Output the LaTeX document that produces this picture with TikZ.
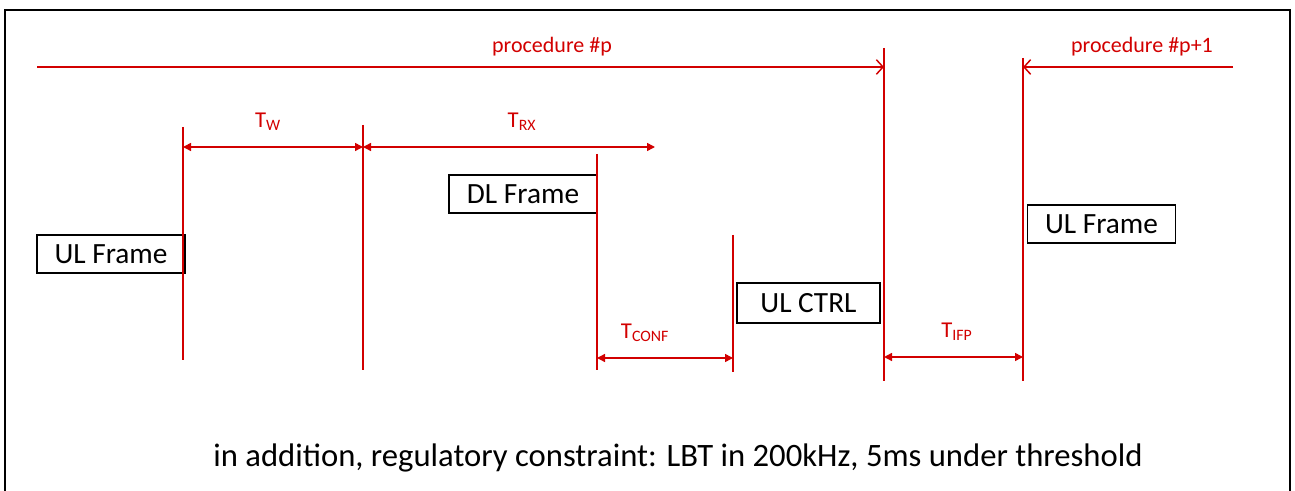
\documentclass[tikz,border=0pt]{standalone}
\usepackage{fontspec}
\setmainfont{Carlito}
\usetikzlibrary{arrows.meta}
\definecolor{tred}{RGB}{210,0,0}
\begin{document}
\begin{tikzpicture}[x=0.75pt,y=-0.75pt,
 redline/.style={draw=tred, line width=1.1pt},
 dim/.style={redline, {Triangle[length=6pt,width=6pt]}-{Triangle[length=6pt,width=6pt]}},
 proc/.style={redline, -{Straight Barb[length=5pt,width=11pt]}},
 framebox/.style={draw=black, line width=1.1pt, fill=white, font=\fontsize{22}{26}\selectfont, inner sep=0pt, minimum height=28.5pt, minimum width=111pt},
 lbl/.style={text=tred, font=\fontsize{16.5}{19}\selectfont, inner sep=0pt},
 sub/.style={text=tred, font=\fontsize{17}{20}\selectfont, inner sep=0pt},
]
\useasboundingbox (0,0) rectangle (1295,491);
\draw[line width=1.5pt] (5,495) -- (5,10) -- (1290,10) -- (1290,495);

% boxes
\node[framebox] (ulf1) at (111,254) {UL Frame};
\node[framebox] (dlf) at (523,194) {DL Frame};
\node[framebox, minimum width=107pt, minimum height=30pt] (ulctrl) at (808.5,303) {UL CTRL};
\node[framebox] (ulf2) at (1101.5,224) {UL Frame};

% coordinates for vertical lines
\coordinate (v1t) at (183,127); \coordinate (v1b) at (183,360);
\coordinate (v2t) at (363,125); \coordinate (v2b) at (363,370);
\coordinate (v3t) at (597,154); \coordinate (v3b) at (597,370);
\coordinate (v4t) at (733,235); \coordinate (v4b) at (733,372);
\coordinate (v5t) at (884,48);  \coordinate (v5b) at (884,381);
\coordinate (v6t) at (1023,58); \coordinate (v6b) at (1023,381);
\foreach \v in {1,...,6} \draw[redline] (v\v t) -- (v\v b);

% procedure arrows
\coordinate (p1s) at (37,67); \coordinate (p1e) at (884,67);
\coordinate (p2s) at (1233,67); \coordinate (p2e) at (1023,67);
\draw[proc] (p1s) -- (p1e);
\draw[proc] (p2s) -- (p2e);
\node[lbl] (lp) at (552,47) {procedure \#p};
\node[lbl] (lp1) at (1142,47) {procedure \#p+1};

% dimension arrows
\coordinate (tw1) at (183,147); \coordinate (tw2) at (363,147);
\coordinate (trx2) at (655,147);
\coordinate (tc1) at (597,358); \coordinate (tc2) at (733,358);
\coordinate (ti1) at (884,357); \coordinate (ti2) at (1023,357);
\draw[dim] (tw1) -- (tw2);
\draw[dim] (tw2) -- (trx2);
\draw[dim] (tc1) -- (tc2);
\draw[dim] (ti1) -- (ti2);
\node[sub] (ltw) at (268,122) {T\textsubscript{W}};
\node[sub] (ltrx) at (522,122) {T\textsubscript{RX}};
\node[sub] (ltc) at (645,333) {T\textsubscript{CONF}};
\node[sub] (lti) at (957,332) {T\textsubscript{IFP}};

\node[inner sep=0pt, font=\fontsize{24.5}{29}\selectfont] (note) at (678,458) {in addition, regulatory constraint: LBT in 200kHz, 5ms under threshold};
\end{tikzpicture}
\end{document}
